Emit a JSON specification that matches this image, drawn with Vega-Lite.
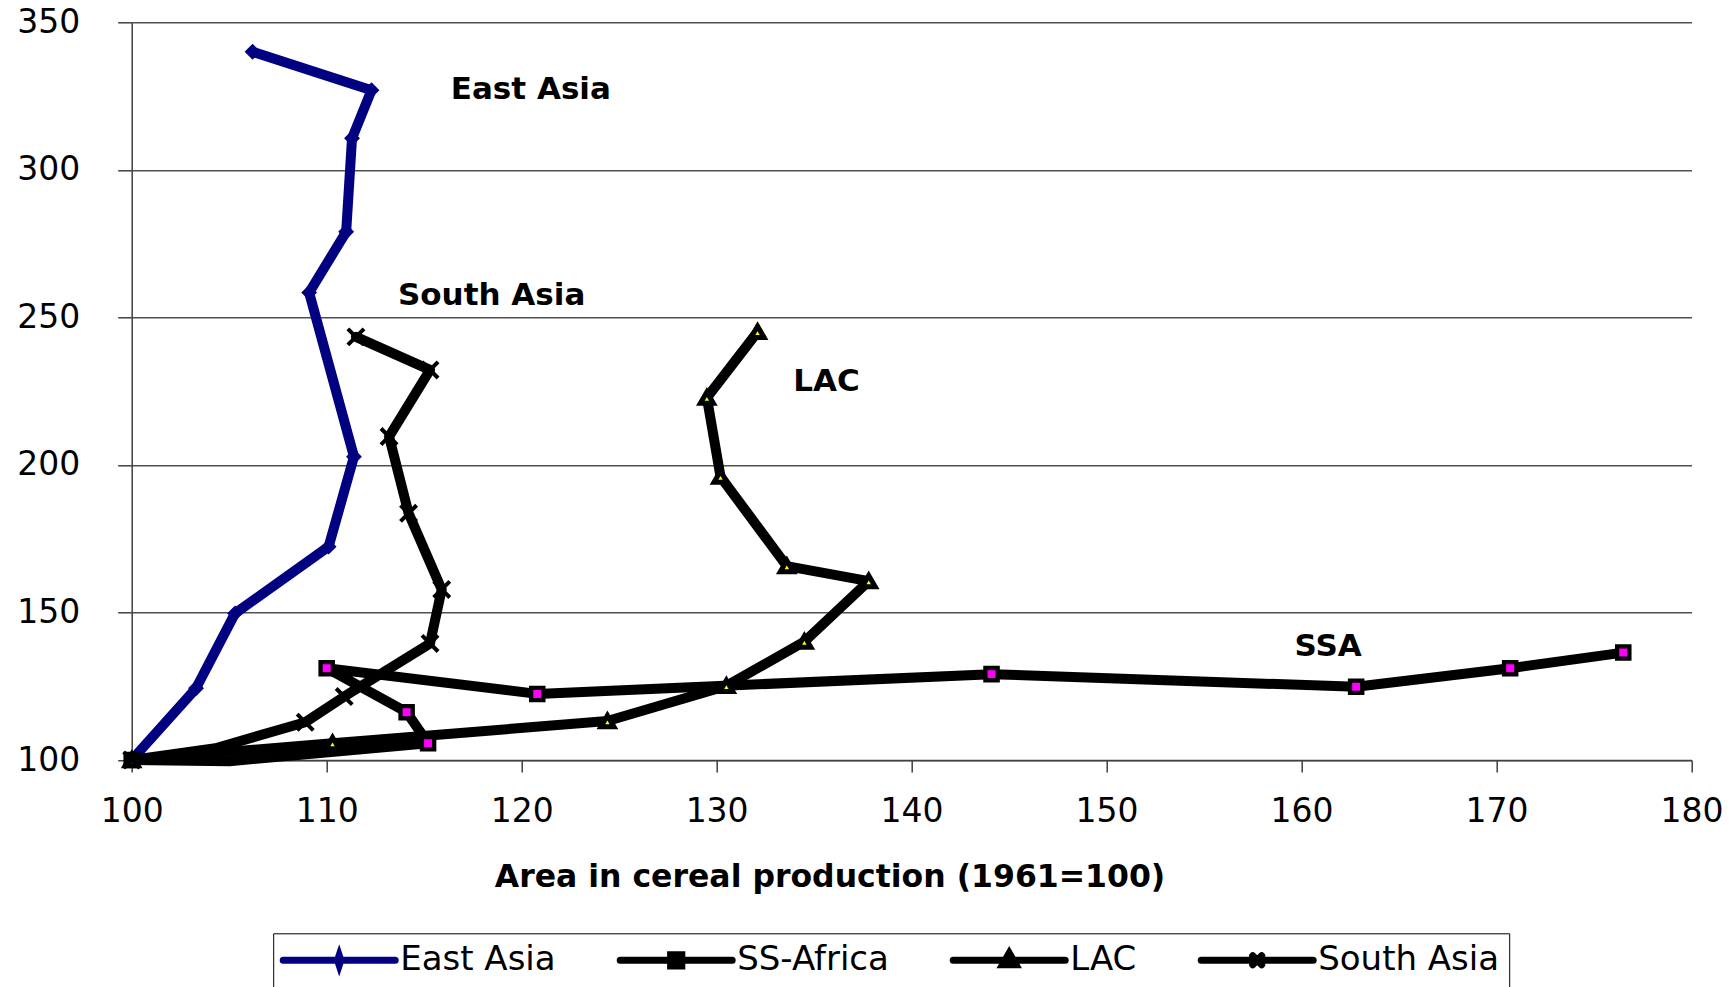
{
  "$schema": "https://vega.github.io/schema/vega-lite/v6.json",
  "width": 1559.8,
  "height": 737.7,
  "autosize": {"type": "none"},
  "padding": {"left": 131.7, "top": 22.3, "right": 41.5, "bottom": 227},
  "background": "white",
  "config": {"view": {"stroke": null}, "font": "DejaVu Sans"},
  "datasets": {
    "paths": [
      {"series": "East Asia", "step": 1, "area": 100, "index": 100},
      {"series": "East Asia", "step": 2, "area": 103.3, "index": 124.3},
      {"series": "East Asia", "step": 3, "area": 105.3, "index": 149.7},
      {"series": "East Asia", "step": 4, "area": 110.1, "index": 172.3},
      {"series": "East Asia", "step": 5, "area": 111.4, "index": 202.8},
      {"series": "East Asia", "step": 6, "area": 109.1, "index": 258.4},
      {"series": "East Asia", "step": 7, "area": 111.0, "index": 279.0},
      {"series": "East Asia", "step": 8, "area": 111.3, "index": 310.7},
      {"series": "East Asia", "step": 9, "area": 112.3, "index": 327.0},
      {"series": "East Asia", "step": 10, "area": 106.2, "index": 340.0},
      {"series": "SS-Africa", "step": 1, "area": 100, "index": 100},
      {"series": "SS-Africa", "step": 2, "area": 105.0, "index": 99.6},
      {"series": "SS-Africa", "step": 3, "area": 115.2, "index": 105.7},
      {"series": "SS-Africa", "step": 4, "area": 114.1, "index": 116.2},
      {"series": "SS-Africa", "step": 5, "area": 110.0, "index": 131.1},
      {"series": "SS-Africa", "step": 6, "area": 120.8, "index": 122.4},
      {"series": "SS-Africa", "step": 7, "area": 144.1, "index": 129.1},
      {"series": "SS-Africa", "step": 8, "area": 162.8, "index": 124.8},
      {"series": "SS-Africa", "step": 9, "area": 170.7, "index": 131.1},
      {"series": "SS-Africa", "step": 10, "area": 176.5, "index": 136.4},
      {"series": "LAC", "step": 1, "area": 100, "index": 100},
      {"series": "LAC", "step": 2, "area": 110.3, "index": 105.7},
      {"series": "LAC", "step": 3, "area": 124.4, "index": 113.2},
      {"series": "LAC", "step": 4, "area": 130.5, "index": 125.1},
      {"series": "LAC", "step": 5, "area": 134.5, "index": 140.1},
      {"series": "LAC", "step": 6, "area": 137.8, "index": 160.6},
      {"series": "LAC", "step": 7, "area": 133.6, "index": 165.7},
      {"series": "LAC", "step": 8, "area": 130.2, "index": 196.0},
      {"series": "LAC", "step": 9, "area": 129.5, "index": 222.8},
      {"series": "LAC", "step": 10, "area": 132.1, "index": 245.1},
      {"series": "South Asia", "step": 1, "area": 100, "index": 100},
      {"series": "South Asia", "step": 2, "area": 104.3, "index": 104.0},
      {"series": "South Asia", "step": 3, "area": 108.9, "index": 112.8},
      {"series": "South Asia", "step": 4, "area": 110.9, "index": 121.5},
      {"series": "South Asia", "step": 5, "area": 115.3, "index": 139.5},
      {"series": "South Asia", "step": 6, "area": 115.9, "index": 157.8},
      {"series": "South Asia", "step": 7, "area": 114.2, "index": 183.6},
      {"series": "South Asia", "step": 8, "area": 113.2, "index": 209.6},
      {"series": "South Asia", "step": 9, "area": 115.3, "index": 232.2},
      {"series": "South Asia", "step": 10, "area": 111.5, "index": 243.4}
    ],
    "labels": [
      {"label": "East Asia", "area": 120.47, "index": 327.1},
      {"label": "South Asia", "area": 118.46, "index": 257.3},
      {"label": "LAC", "area": 135.64, "index": 228.1},
      {"label": "SSA", "area": 161.36, "index": 138.2}
    ]
  },
  "layer": [
    {
      "data": {"name": "paths"},
      "mark": {"type": "line", "strokeWidth": 10, "strokeJoin": "round", "strokeCap": "round"},
      "encoding": {
        "x": {
          "field": "area", "type": "quantitative",
          "scale": {"domain": [100, 180], "nice": false, "zero": false},
          "axis": {
            "values": [100, 110, 120, 130, 140, 150, 160, 170, 180],
            "grid": false,
            "domainColor": "#404040", "domainWidth": 1.5,
            "tickColor": "#404040", "tickWidth": 1.5, "tickSize": 12,
            "labelFont": "DejaVu Sans", "labelFontSize": 33, "labelColor": "black",
            "labelPadding": 23, "labelFlush": false, "labelOverlap": false, "labelBound": false,
            "title": "Area in cereal production (1961=100)",
            "titleFont": "DejaVu Sans", "titleFontSize": 31.5, "titleFontWeight": "bold", "titleColor": "black",
            "titleX": 697.8, "titleY": 126.7, "titleBaseline": "alphabetic", "titleAlign": "center"
          }
        },
        "y": {
          "field": "index", "type": "quantitative",
          "scale": {"domain": [100, 350], "nice": false, "zero": false},
          "axis": {
            "values": [100, 150, 200, 250, 300, 350],
            "grid": true, "gridColor": "#505050", "gridWidth": 1.5,
            "domainColor": "#404040", "domainWidth": 1.5,
            "tickColor": "#404040", "tickWidth": 1.5, "tickSize": 14,
            "labelFont": "DejaVu Sans", "labelFontSize": 33, "labelColor": "black",
            "labelPadding": 38, "labelFlush": false, "labelOverlap": false, "labelBound": false,
            "title": null
          }
        },
        "order": {"field": "step", "type": "quantitative"},
        "stroke": {
          "field": "series", "type": "nominal",
          "scale": {"domain": ["East Asia", "SS-Africa", "LAC", "South Asia"], "range": ["#000080", "#000000", "#000000", "#000000"]},
          "legend": {
            "orient": "none", "legendX": 141.5, "legendY": 911,
            "direction": "horizontal", "columns": 4, "gridAlign": "none", "columnPadding": 50,
            "title": null, "padding": 10,
            "strokeColor": "black", "fillColor": "white",
            "labelFont": "DejaVu Sans", "labelFontSize": 34, "labelColor": "black", "labelLimit": 500,
            "symbolOffset": 39, "labelOffset": 44,
            "encode": {
              "symbols": {
                "update": {
                  "shape": {"signal": "datum.value === 'East Asia' ? 'M-1,0H1M0,-0.09L0.03,0L0,0.09L-0.03,0Z' : datum.value === 'SS-Africa' ? 'M-1,0H1M-0.1,-0.1H0.1V0.1H-0.1Z' : datum.value === 'LAC' ? 'M-1,0H1M0,-0.13L0.12,0.08H-0.12Z' : 'M-1,0H1M-0.08,-0.08L0.08,0.08M-0.08,0.08L0.08,-0.08'"},
                  "size": {"value": 1, "mult": 12544},
                  "strokeWidth": {"value": 7},
                  "strokeCap": {"value": "round"},
                  "fill": {"signal": "datum.value === 'East Asia' ? '#000080' : datum.value === 'SS-Africa' ? '#ff00ff' : datum.value === 'LAC' ? '#ffff00' : '#000000'"},
                  "stroke": {"signal": "datum.value === 'East Asia' ? '#000080' : '#000000'"},
                  "opacity": {"value": 1},
                  "fillOpacity": {"value": 1},
                  "strokeOpacity": {"value": 1}
                }
              }
            }
          }
        }
      }
    },
    {
      "data": {"name": "paths"},
      "transform": [{"filter": "datum.series === 'East Asia'"}],
      "mark": {"type": "point", "shape": "diamond", "size": 170, "filled": true, "fill": "#000080", "stroke": "#000080", "strokeWidth": 2, "opacity": 1},
      "encoding": {
        "x": {"field": "area", "type": "quantitative"},
        "y": {"field": "index", "type": "quantitative"}
      }
    },
    {
      "data": {"name": "paths"},
      "transform": [{"filter": "datum.series === 'SS-Africa' && datum.step !== 2"}],
      "mark": {"type": "point", "shape": "square", "size": 150, "filled": true, "fill": "#ff00ff", "stroke": "#000000", "strokeWidth": 4.3, "opacity": 1},
      "encoding": {
        "x": {"field": "area", "type": "quantitative"},
        "y": {"field": "index", "type": "quantitative"}
      }
    },
    {
      "data": {"name": "paths"},
      "transform": [{"filter": "datum.series === 'LAC'"}],
      "mark": {"type": "point", "shape": "triangle-up", "size": 170, "filled": true, "fill": "#ffff00", "stroke": "#000000", "strokeWidth": 5, "opacity": 1},
      "encoding": {
        "x": {"field": "area", "type": "quantitative"},
        "y": {"field": "index", "type": "quantitative"}
      }
    },
    {
      "data": {"name": "paths"},
      "transform": [{"filter": "datum.series === 'South Asia' && datum.step !== 2"}],
      "mark": {"type": "point", "shape": "M-1,-1L1,1M-1,1L1,-1", "size": 260, "filled": false, "stroke": "#000000", "strokeWidth": 4, "opacity": 1},
      "encoding": {
        "x": {"field": "area", "type": "quantitative"},
        "y": {"field": "index", "type": "quantitative"}
      }
    },
    {
      "data": {"name": "labels"},
      "mark": {"type": "text", "font": "DejaVu Sans", "fontWeight": "bold", "fontSize": 31, "color": "black", "align": "center", "baseline": "middle"},
      "encoding": {
        "x": {"field": "area", "type": "quantitative"},
        "y": {"field": "index", "type": "quantitative"},
        "text": {"field": "label", "type": "nominal"}
      }
    }
  ]
}
